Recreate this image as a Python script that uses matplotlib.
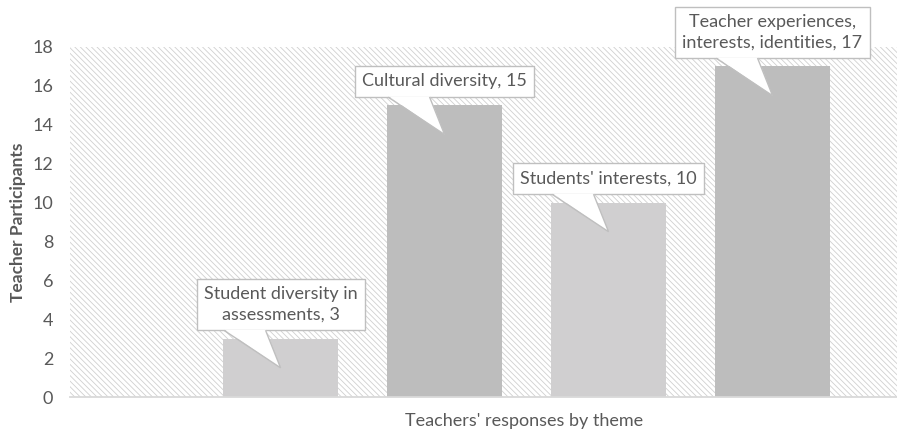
import matplotlib.pyplot as plt
from matplotlib.patches import Rectangle, Polygon

plt.rcParams['font.family'] = ['Lato', 'DejaVu Sans']
plt.rcParams['hatch.linewidth'] = 0.6
plt.rcParams['hatch.color'] = '#d0d0d0'

themes = ['Student diversity in\nassessments', 'Cultural diversity',
          "Students' interests", 'Teacher experiences,\ninterests, identities']
counts = [3, 15, 10, 17]
bar_colors = ['#d0cfd0', '#bdbdbd', '#d0cfd0', '#bdbdbd']
yticks = list(range(0, 19, 2))

grey_txt = '#595959'

fig = plt.figure(figsize=(8.97, 4.33), dpi=100)
ax = fig.add_axes([70 / 897, 36 / 433, 827 / 897, 350 / 433])

# hatched plot area
ax.add_patch(Rectangle((0, 0), 1, 1, transform=ax.transAxes, facecolor='white',
                       edgecolor='#d0d0d0', hatch='\\\\\\\\\\\\', lw=0, zorder=0))

xs = list(range(1, len(counts) + 1))
ax.bar(xs, counts, width=0.70, color=bar_colors, zorder=2)

ax.set_xlim(-0.284, 4.759)
ax.set_ylim(0, 18)
ax.set_yticks(yticks)
ax.set_xticks([])
ax.tick_params(axis='y', length=0, pad=12, labelsize=13, labelcolor=grey_txt)
for s in ['top', 'right', 'left']:
    ax.spines[s].set_visible(False)
ax.spines['bottom'].set_color('#d9d9d9')
ax.spines['bottom'].set_linewidth(1.3)
ax.spines['bottom'].set_zorder(3)

ax.set_ylabel('Teacher Participants', fontsize=12.5, fontweight='bold',
              color=grey_txt, labelpad=5)
fig.text(524 / 897, 1 - 421 / 433, "Teachers' responses by theme",
         ha='center', va='center', fontsize=13, color=grey_txt)

# callouts
for x, label, v in zip(xs, themes, counts):
    txt = f'{label}, {v}'
    ax.text(x, v + 0.4 + 0.42, txt, ha='center', va='bottom', fontsize=13,
            color=grey_txt, linespacing=1.35, zorder=5, clip_on=False,
            bbox=dict(boxstyle='square,pad=0.4', facecolor='white',
                      edgecolor='#bfbfbf', lw=1))
    base_y = v + 0.4
    left = x - 0.34
    right = x - 0.09
    tip = (x, v - 1.5)
    ax.add_patch(Polygon([(left, base_y + 0.06), tip, (right, base_y + 0.06)],
                         closed=True, facecolor='white', edgecolor='none',
                         zorder=6))
    ax.plot([left, tip[0], right], [base_y, tip[1], base_y], color='#bfbfbf',
            lw=1, zorder=7, solid_joinstyle='miter')

fig.savefig('out.png', dpi=100)
